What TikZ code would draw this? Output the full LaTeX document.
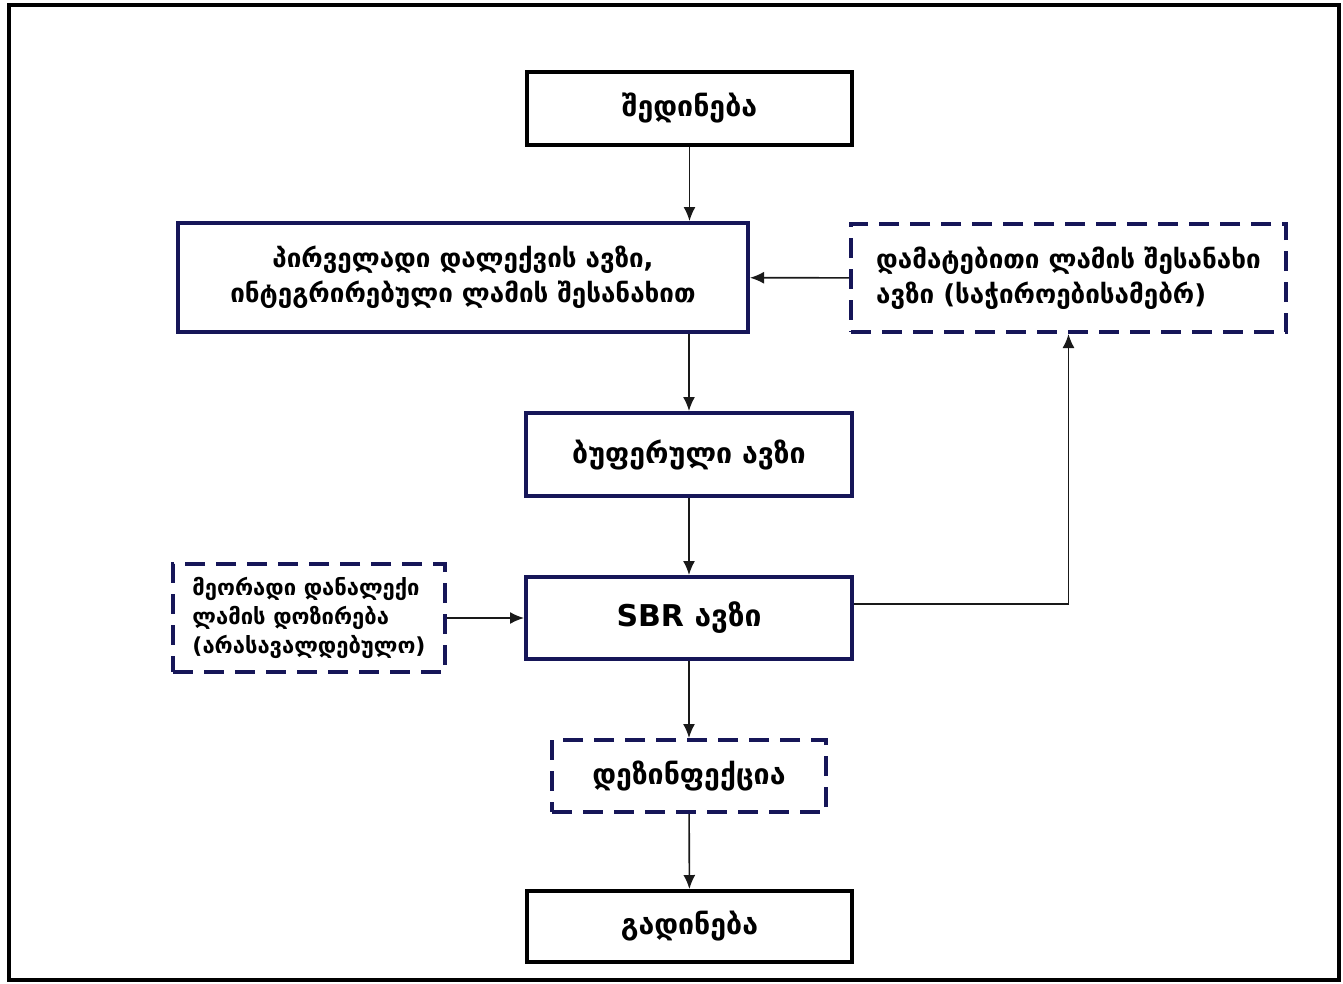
\documentclass[tikz,border=0pt]{standalone}
\usepackage{fontspec}
\setmainfont{DejaVu Sans}
\usetikzlibrary{arrows.meta}
\definecolor{navy}{RGB}{22,22,88}
\definecolor{linegray}{RGB}{25,25,25}
\tikzset{
  boxbase/.style={rectangle, line width=4pt, fill=white, align=center, font=\bfseries\fontsize{26}{35}\selectfont, inner sep=0pt},
  blackbox/.style={boxbase, draw=black},
  navybox/.style={boxbase, draw=navy},
  dashbox/.style={boxbase, draw=navy, dash pattern=on 20pt off 11pt},
  bigtext/.style={font=\bfseries\fontsize{28.5}{34}\selectfont},
  conn/.style={line width=1.6pt, draw=linegray, -{Latex[length=14pt,width=12pt]}}
}
\begin{document}
\begin{tikzpicture}[x=1pt,y=-1pt]
\useasboundingbox (0,0) rectangle (1343,983);
\draw[line width=4pt, black] (9,5) rectangle (1339,980);

\node[blackbox, bigtext, minimum width=325pt, minimum height=73pt] (in) at (689.5,108.5) {შედინება};
\node[navybox, minimum width=570pt, minimum height=109pt] (prim) at (463,277.5) {პირველადი დალექვის ავზი,\\ინტეგრირებული ლამის შესანახით};
\node[dashbox, minimum width=435pt, minimum height=108pt, align=left] (add) at (1068.5,278) {დამატებითი ლამის შესანახი\\ავზი (საჭიროებისამებრ)};
\node[navybox, bigtext, minimum width=326pt, minimum height=83pt] (buf) at (689,454.5) {ბუფერული ავზი};
\node[navybox, minimum width=326pt, minimum height=82pt, font=\bfseries\fontsize{30}{34}\selectfont] (sbr) at (689,618) {SBR ავზი};
\node[dashbox, minimum width=272pt, minimum height=108pt, align=left, font=\bfseries\fontsize{22}{29}\selectfont] (sec) at (309,618) {მეორადი დანალექი\\ლამის დოზირება\\(არასავალდებულო)};
\node[dashbox, bigtext, minimum width=274pt, minimum height=72pt] (dis) at (689,776) {დეზინფექცია};
\node[blackbox, bigtext, minimum width=325pt, minimum height=71pt] (out) at (689.5,926.5) {გადინება};

\draw[conn] (in) -- (prim.north -| in);
\draw[conn] (prim.south -| buf) -- (buf);
\draw[conn] (buf) -- (sbr);
\draw[conn] (sbr) -- (dis);
\draw[conn] (dis) -- (out);
\draw[conn] (add) -- (prim);
\draw[conn] (sec) -- (sbr);
\draw[conn] ([yshift=14pt]sbr.east) -| (add.south);
\end{tikzpicture}
\end{document}
